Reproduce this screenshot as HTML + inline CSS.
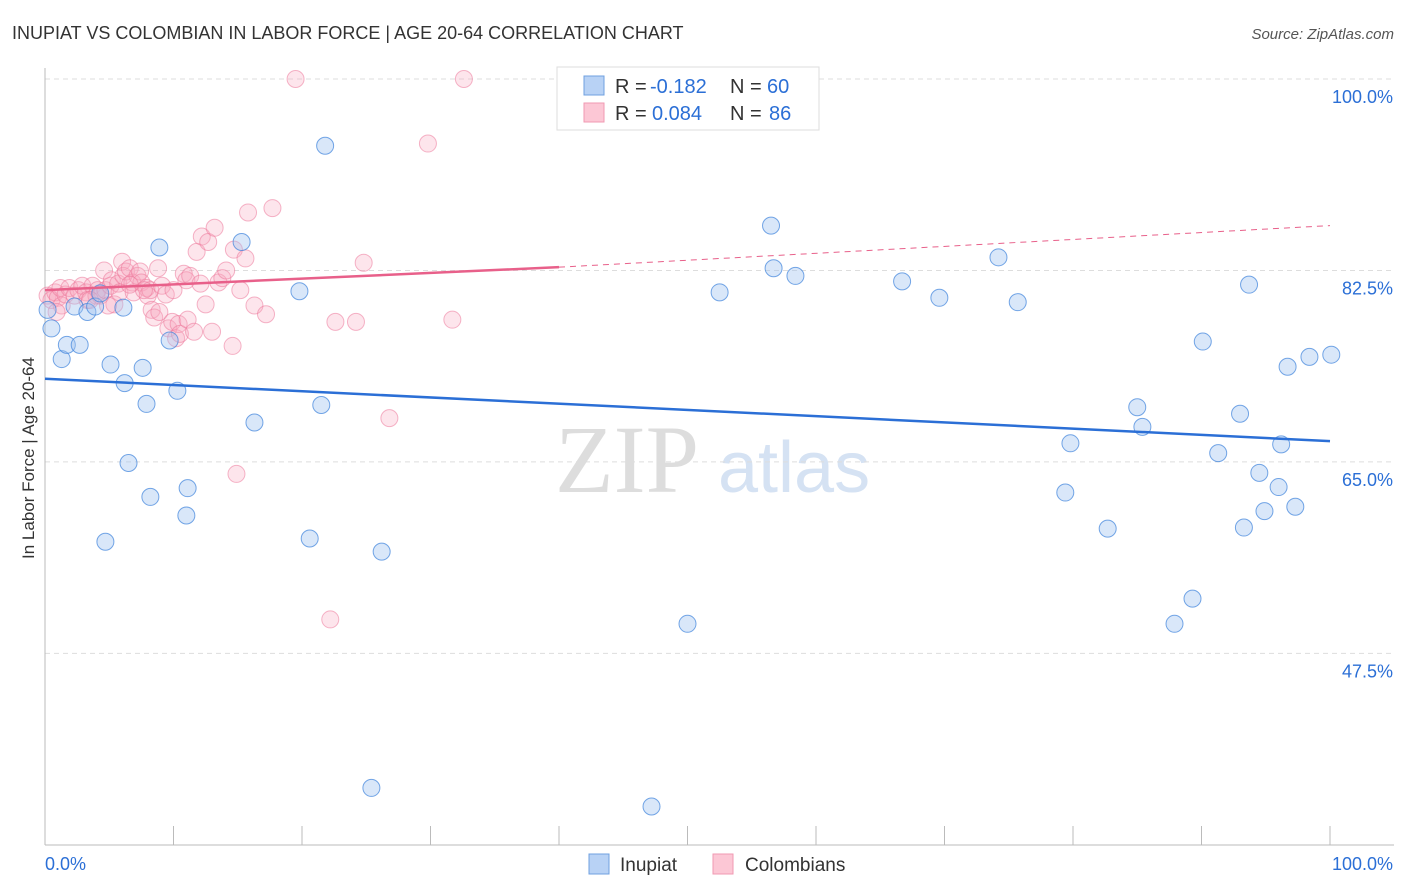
<!DOCTYPE html>
<html><head><meta charset="utf-8"><style>
body{margin:0;background:#fff;font-family:"Liberation Sans",sans-serif}
svg{display:block}
</style></head><body>
<svg id="chart" width="1406" height="892">
<text x="12" y="39" font-size="18" fill="#333">INUPIAT VS COLOMBIAN IN LABOR FORCE | AGE 20-64 CORRELATION CHART</text>
<text x="1394" y="39" font-size="15" fill="#555" font-style="italic" text-anchor="end">Source: ZipAtlas.com</text>
<text x="34" y="458" font-size="17" fill="#333" text-anchor="middle" transform="rotate(-90 34 458)">In Labor Force | Age 20-64</text>
<text x="555" y="492" font-size="96" fill="#ddd" font-family="Liberation Serif,serif">ZIP</text>
<text x="718" y="492" font-size="72" fill="#d5e2f3">atlas</text>
<g id="grid"></g><g id="pts"></g><g id="lines"></g>
<g>
<rect x="557" y="67" width="262" height="63" fill="#fff" stroke="#ddd"/>
<rect x="584" y="76" width="20" height="19" fill="#b8d2f5" stroke="#6fa0e0"/>
<rect x="584" y="103" width="20" height="19" fill="#fcc7d5" stroke="#f09ab2"/>
<text x="615" y="93" font-size="20" fill="#333">R =</text>
<text x="650" y="93" font-size="20" fill="#2b6fd6">-0.182</text>
<text x="730" y="93" font-size="20" fill="#333">N =</text>
<text x="767" y="93" font-size="20" fill="#2b6fd6">60</text>
<text x="615" y="120" font-size="20" fill="#333">R =</text>
<text x="652" y="120" font-size="20" fill="#2b6fd6">0.084</text>
<text x="730" y="120" font-size="20" fill="#333">N =</text>
<text x="769" y="120" font-size="20" fill="#2b6fd6">86</text>
</g>
<g>
<rect x="589" y="854" width="20" height="20" fill="#b8d2f5" stroke="#6fa0e0"/>
<text x="620" y="871" font-size="19" fill="#333">Inupiat</text>
<rect x="713" y="854" width="20" height="20" fill="#fcc7d5" stroke="#f09ab2"/>
<text x="745" y="871" font-size="19" fill="#333">Colombians</text>
</g>
</svg>
<script>
const yTicks=[100,82.5,65,47.5];
const yTickLabels=["100.0%","82.5%","65.0%","47.5%"];
const inupiatPx=[[52,328],[48,310],[62,359],[67,345],[80,345],[74,307],[88,312],[95,307],[100,293],[123,308],[111,364],[125,383],[143,368],[146,404],[177,391],[170,340],[159,248],[129,463],[150,497],[188,488],[186,516],[106,542],[241,242],[255,422],[299,291],[325,146],[321,405],[310,538],[382,552],[371,788],[651,806],[688,624],[719,292],[771,226],[774,268],[796,276],[902,281],[940,298],[998,257],[1018,302],[1070,443],[1065,492],[1108,529],[1137,407],[1142,427],[1203,342],[1218,453],[1193,599],[1174,624],[1249,285],[1240,414],[1259,473],[1281,444],[1287,367],[1309,357],[1331,355],[1278,487],[1264,511],[1244,528],[1295,507]];
const colombPx=[[48,296],[52,300],[55,292],[58,298],[60,288],[62,305],[66,294],[70,288],[74,296],[78,290],[82,286],[86,292],[88,300],[92,286],[96,296],[98,290],[100,296],[104,270],[106,290],[110,286],[112,280],[114,304],[118,284],[120,292],[122,262],[124,276],[126,272],[130,268],[132,282],[134,292],[138,276],[140,272],[142,282],[146,288],[148,296],[150,290],[152,310],[154,318],[158,268],[160,312],[162,286],[166,294],[168,328],[172,322],[174,290],[176,338],[178,324],[180,334],[184,274],[186,280],[188,320],[190,276],[194,332],[196,252],[200,284],[202,236],[206,304],[208,242],[212,332],[214,228],[218,282],[222,278],[226,270],[232,346],[234,250],[236,474],[240,290],[246,258],[248,212],[254,306],[266,314],[272,208],[296,79],[330,619],[336,322],[356,322],[364,263],[390,418],[428,144],[452,320],[464,79],[56,312],[90,300],[108,306],[144,290],[130,285]];
const inupiatX=inupiatPx.map(p=>+((p[0]-45)/12.85).toFixed(1));
const inupiatY=inupiatPx.map(p=>+(100-(p[1]-79)/10.94).toFixed(1));
const colombX=colombPx.map(p=>+((p[0]-45)/12.85).toFixed(1));
const colombY=colombPx.map(p=>+(100-(p[1]-79)/10.94).toFixed(1));
const blueTrend=[72.6,66.9];
const pinkTrend=[80.7,82.8,86.6];
const X=v=>45+v*12.85, Y=v=>79+(100-v)*10.94;
const NS="http://www.w3.org/2000/svg";
function mk(t,a,p){const e=document.createElementNS(NS,t);for(const k in a)e.setAttribute(k,a[k]);p.appendChild(e);return e;}
const grid=document.getElementById('grid');
yTicks.forEach((t,i)=>{
 const l=mk('line',{x1:45,x2:1394,y1:Y(t),y2:Y(t),stroke:'#ddd','stroke-dasharray':'5,4'},grid);
 
 
 const tx=mk('text',{x:1393,y:Y(t)+24,'font-size':18,fill:'#2b6fd6','text-anchor':'end'},grid);
 tx.textContent=yTickLabels[i];
 
 
});
mk('line',{x1:45,x2:45,y1:68,y2:845,stroke:'#bbb'},grid);
mk('line',{x1:45,x2:1394,y1:845,y2:845,stroke:'#bbb'},grid);
for(let i=0;i<=10;i++){const t=mk('line',{x1:X(i*10),x2:X(i*10),y1:826,y2:845,stroke:'#bbb'},grid);
 
 }
const x0=mk('text',{x:45,y:870,'font-size':18,fill:'#2b6fd6'},grid);x0.textContent='0.0%';


const x1=mk('text',{x:1393,y:870,'font-size':18,fill:'#2b6fd6','text-anchor':'end'},grid);x1.textContent='100.0%';


const pts=document.getElementById('pts');
colombX.forEach((x,i)=>{const c=mk('circle',{cx:X(x),cy:Y(colombY[i]),r:8.5,fill:'rgba(248,170,192,0.3)',stroke:'rgba(236,120,155,0.55)','stroke-width':1},pts);
 
 });
inupiatX.forEach((x,i)=>{const c=mk('circle',{cx:X(x),cy:Y(inupiatY[i]),r:8.5,fill:'rgba(160,196,240,0.4)',stroke:'rgba(60,130,220,0.7)','stroke-width':1},pts);
 
 });
const lines=document.getElementById('lines');
const bl=mk('line',{x1:X(0),y1:Y(blueTrend[0]),x2:X(100),y2:Y(blueTrend[1]),stroke:'#2b6fd6','stroke-width':2.5},lines);


const pl=mk('line',{x1:X(0),y1:Y(pinkTrend[0]),x2:X(40),y2:Y(pinkTrend[1]),stroke:'#e8608a','stroke-width':2.5},lines);


const pd=mk('line',{x1:X(40),y1:Y(pinkTrend[1]),x2:X(100),y2:Y(pinkTrend[2]),stroke:'#e8608a','stroke-width':1,'stroke-dasharray':'6,5'},lines);


</script>
</body></html>
